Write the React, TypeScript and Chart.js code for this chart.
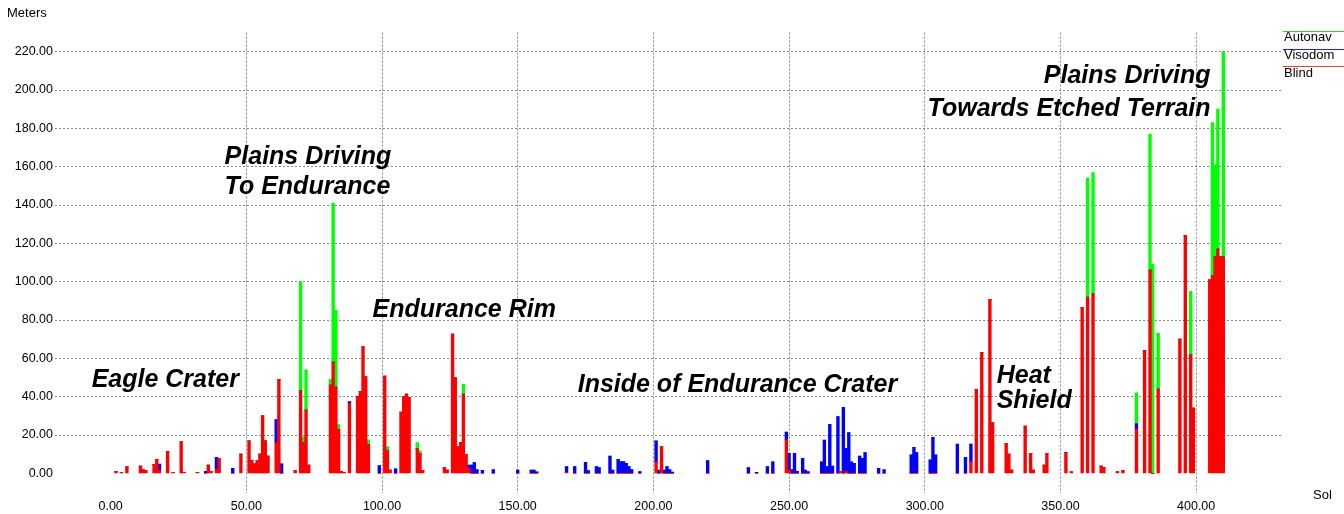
import React, { useEffect, useRef } from "react";
import { Chart, registerables } from "chart.js";

Chart.register(...registerables);

// Sol number of each bar, and metres driven per mode on that sol
const sols = [
  2, 4, 6, 11, 12, 13, 16, 17, 18, 21, 23, 26, 27, 32, 35, 36, 37, 39, 40, 45, 48,
  51, 52, 53, 54, 55, 56, 57, 58, 61, 62, 63, 68, 70, 71, 72, 73,
  81, 82, 83, 84, 85, 86, 88, 91, 92, 93, 94, 95, 99,
  101, 102, 103, 105, 107, 108, 109, 110, 113, 114, 115, 123, 124, 126, 127, 128, 129, 130,
  131, 132, 133, 134, 135, 137, 141, 150, 155, 156, 157, 168, 171, 175, 176, 179, 180,
  184, 185, 187, 188, 189, 190, 191, 192, 195, 201, 202, 203, 204, 205, 206, 207, 220,
  235, 238, 242, 244, 249, 250, 251, 252, 253, 255, 256, 257, 262, 263, 264, 265, 266,
  268, 269, 270, 271, 272, 273, 274, 276, 277, 278, 283, 285, 295, 296, 297, 302, 303, 304,
  312, 315, 317, 319, 321, 324, 325, 330, 331, 332, 337, 339, 340, 344, 345, 352, 354,
  358, 360, 362, 365, 366, 371, 373, 378, 381, 383, 384, 386, 394, 396, 398, 399,
  405, 406, 407, 408, 409, 410,
];
const blind = [
  1, 0.5, 3.4, 3.8, 2, 1.5, 4.7, 7.3, 1.5, 11.3, 0.5, 16.5, 0.5, 0.5, 0, 4.3, 1, 2, 7.8, 0, 10,
  17, 6.6, 5, 6.5, 10, 30, 17, 9, 16, 49, 0, 1.5, 43, 16, 33, 4.3,
  46, 58, 45, 23, 1, 0.5, 36.5, 40, 42.6, 66, 50.4, 15, 0,
  50.8, 12, 1.7, 0, 32, 40, 41.4, 39.7, 13, 10.4, 1.4, 3, 1.7, 72.7, 50, 13.9, 16, 41.4,
  9.9, 2.6, 0, 0, 0, 0, 0, 0, 0, 0, 0, 0.5, 0, 0, 0, 0, 0,
  0, 0, 0, 0, 0, 0, 0, 0, 0, 6, 0, 14, 0, 0, 0, 0, 0,
  0, 0, 0, 0, 17.5, 1.7, 0, 0, 0, 0, 0, 0, 0, 0, 0, 0, 0,
  0, 0.9, 0, 1, 0, 0, 0, 0, 0, 0, 0, 0, 0, 0, 0, 0, 0, 0,
  0, 0, 6, 43.8, 63, 90.8, 26.4, 15.7, 10, 1.7, 24.7, 10.4, 1.7, 4.3, 10.5, 10.8, 0.8,
  86.6, 92, 93.6, 3.8, 3, 0.8, 1.4, 23, 64, 106, 0, 44, 70, 124, 62, 34,
  101, 103, 113, 117, 113, 113,
];
const visodom = [
  0, 0, 0, 0, 0, 0, 0, 0, 3.3, 0, 0, 0, 0, 0, 1, 0, 0, 6.3, 0, 2.6, 0,
  0, 0, 0, 0, 0, 0, 0, 0, 12, 0, 5, 0, 0, 0, 0, 0,
  0, 0, 0, 0, 0, 0, 1, 0, 0, 0, 0, 0, 4,
  0, 0, 0, 2.4, 0, 0, 0, 0, 0, 0, 0, 0, 0, 0, 0, 0, 0, 0,
  0, 1.7, 4.3, 5.6, 2, 1.6, 2, 1.7, 1.7, 1.7, 0.8, 3, 3.5, 5.7, 1.4, 3.5, 3,
  9, 1.7, 7.3, 6.1, 6.1, 5.2, 3.5, 2, 0.9, 11, 1.7, 0, 1.7, 3.5, 2, 0.7, 6.6,
  3, 0.5, 3.5, 6, 4, 8.7, 2, 10.4, 1, 7.8, 1.7, 0.9, 6, 17.4, 3.5, 25.6, 3.8,
  29.6, 0, 34.4, 12, 21.2, 6, 5.2, 9, 7.8, 10.8, 2.6, 2, 9.6, 13.6, 10.8, 7, 18.8, 9.6,
  15.3, 8.3, 9.3, 0, 0, 0, 0, 0, 0, 0, 0, 0, 0, 0, 0, 0, 0,
  0, 0, 0, 0, 0, 0, 0, 3, 0, 0, 0, 0, 0, 0, 0, 0,
  0, 0, 0, 0, 0, 0,
];
const autonav = [
  0, 0, 0, 0, 0, 0, 0, 0, 0, 0, 0, 0, 0, 0, 0, 0, 0, 0, 0, 0, 0,
  0, 0, 0, 0, 0, 0, 0, 0, 0, 0, 0, 0, 57, 3, 21, 0,
  3, 83, 40, 2.5, 0, 0, 0, 0, 0, 0, 0, 2.5, 0,
  0, 2, 0, 0, 0, 0, 0, 0, 3, 1.3, 0, 0, 0, 0, 0, 0, 0, 5,
  0, 0, 0, 0, 0, 0, 0, 0, 0, 0, 0, 0, 0, 0, 0, 0, 0,
  0, 0, 0, 0, 0, 0, 0, 0, 0, 0, 0, 0, 0, 0, 0, 0, 0,
  0, 0, 0, 0, 0, 0, 0, 0, 0, 0, 0, 0, 0, 0, 0, 0, 0,
  0, 0, 0, 0, 0, 0, 0, 0, 0, 0, 0, 0, 0, 0, 0, 0, 0, 0,
  0, 0, 0, 0, 0, 0, 0, 0, 0, 0, 0, 0, 0, 0, 0, 0, 0,
  0, 62, 63.3, 0, 0, 0, 0, 16, 0, 71, 109, 29, 0, 0, 33, 0,
  0, 80, 48, 73, 0, 107,
];

const xTicks = [0, 50, 100, 150, 200, 250, 300, 350, 400];
const yTicks = [0, 20, 40, 60, 80, 100, 120, 140, 160, 180, 200, 220];

const legendNames = ["Autonav", "Visodom", "Blind"];
const legendColors = ["#22dd22", "#2222dd", "#e04040"];

const notes = [
  { lines: ["Eagle Crater"], sol: -7, m: 45, gap: 30, align: "left" },
  { lines: ["Plains Driving", "To Endurance"], sol: 42, m: 161.4, gap: 30, align: "left" },
  { lines: ["Endurance Rim"], sol: 96.5, m: 81.5, gap: 30, align: "left" },
  { lines: ["Inside of Endurance Crater"], sol: 172.1, m: 42.4, gap: 30, align: "left" },
  { lines: ["Heat", "Shield"], sol: 326.5, m: 47, gap: 25, align: "left" },
  { lines: ["Plains Driving", "Towards Etched Terrain"], sol: 405.3, m: 203.6, gap: 33, align: "right" },
];

const FONT = '"Liberation Sans", Arial, sans-serif';

export default function App() {
  const ref = useRef<HTMLCanvasElement | null>(null);

  useEffect(() => {
    if (!ref.current) return;
    const toPts = (vals: number[]) => sols.map((s, i) => ({ x: s, y: vals[i] }));

    const overlay = {
      id: "overlay",
      afterDraw(chart: any) {
        const { ctx, chartArea } = chart;
        const xs = chart.scales.x;
        const ys = chart.scales.y;
        ctx.save();
        ctx.fillStyle = "#000";
        ctx.font = `13px ${FONT}`;
        ctx.textBaseline = "middle";
        ctx.textAlign = "left";
        ctx.fillText("Meters", 7, 13);
        ctx.fillText("Sol", 1313, 495);
        // legend
        const lineYs = [31.5, 49.5, 66.5];
        const textYs = [37, 55, 73];
        legendNames.forEach((n, i) => {
          ctx.strokeStyle = legendColors[i];
          ctx.lineWidth = 1;
          ctx.beginPath();
          ctx.moveTo(chartArea.right, lineYs[i]);
          ctx.lineTo(chart.width, lineYs[i]);
          ctx.stroke();
          ctx.fillStyle = "#000";
          ctx.fillText(n, chartArea.right + 1, textYs[i]);
        });
        // annotations
        ctx.font = `italic bold 25px ${FONT}`;
        ctx.textBaseline = "alphabetic";
        notes.forEach((n) => {
          const px = xs.getPixelForValue(n.sol);
          const py = ys.getPixelForValue(n.m);
          ctx.textAlign = n.align;
          n.lines.forEach((t, i) => ctx.fillText(t, px, py + i * n.gap));
        });
        ctx.restore();
      },
    };

    const gridColor = (c: any) => (c.tick && c.tick.value === 0 ? "rgba(0,0,0,0)" : "#888888");

    const chart = new Chart(ref.current, {
      type: "bar",
      data: {
        datasets: [
          { label: "Blind", data: toPts(blind), backgroundColor: "#ff0000" },
          { label: "Visodom", data: toPts(visodom), backgroundColor: "#0000ff" },
          { label: "Autonav", data: toPts(autonav), backgroundColor: "#00ff00" },
        ],
      },
      options: {
        responsive: false,
        animation: false,
        events: [],
        layout: { padding: { top: 32.5, right: 61, left: 0, bottom: 0 } },
        datasets: {
          bar: { barPercentage: 1, categoryPercentage: 1, borderWidth: 0 },
        },
        plugins: { legend: { display: false }, tooltip: { enabled: false } },
        scales: {
          x: {
            type: "linear",
            stacked: true,
            offset: false,
            min: -20.5,
            max: 432,
            afterBuildTicks: (s: any) => {
              s.ticks = xTicks.map((v) => ({ value: v }));
            },
            afterFit: (s: any) => {
              s.height = 21.5;
            },
            grid: { color: gridColor, drawTicks: false, lineWidth: 1, offset: false },
            border: { display: false, dash: [2, 2] },
            ticks: {
              color: "#000",
              font: { family: FONT, size: 12.5 },
              padding: 7,
              maxRotation: 0,
              autoSkip: false,
              callback: (v: any) => Number(v).toFixed(2),
            },
          },
          y: {
            type: "linear",
            stacked: true,
            min: -10,
            max: 230,
            afterBuildTicks: (s: any) => {
              s.ticks = yTicks.map((v) => ({ value: v }));
            },
            afterFit: (s: any) => {
              s.width = 55;
            },
            grid: { color: gridColor, drawTicks: false, lineWidth: 1 },
            border: { display: false, dash: [2, 2] },
            ticks: {
              color: "#000",
              font: { family: FONT, size: 12.5 },
              padding: 2,
              callback: (v: any) => Number(v).toFixed(2),
            },
          },
        },
      },
      plugins: [overlay],
    });
    return () => chart.destroy();
  }, []);

  return (
    <div style={{ position: "fixed", left: 0, top: 0, width: 1344, height: 514, background: "#fff" }}>
      <canvas ref={ref} width={1344} height={514} style={{ display: "block" }} />
    </div>
  );
}
